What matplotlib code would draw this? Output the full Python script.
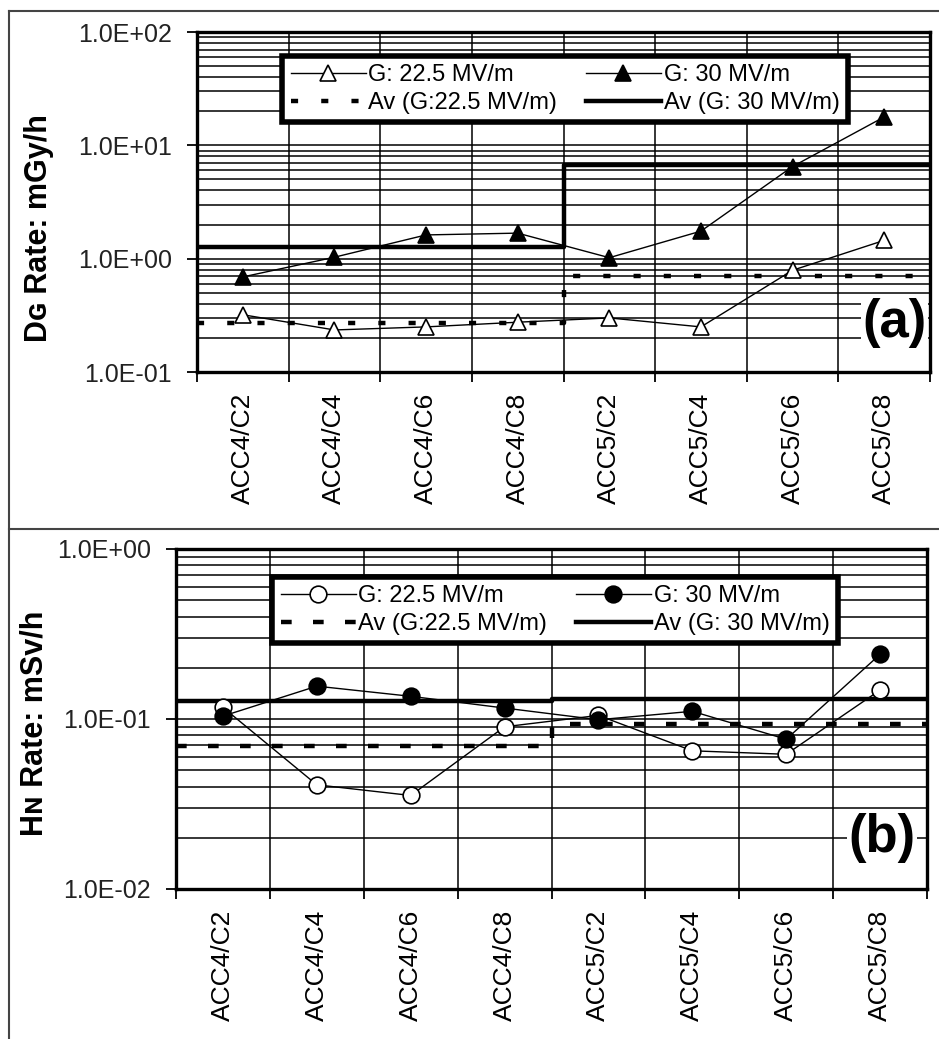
import numpy as np
import matplotlib
matplotlib.use("Agg")
import matplotlib.pyplot as plt
from matplotlib.lines import Line2D
from matplotlib.ticker import FixedLocator, FuncFormatter, LogLocator, NullFormatter

plt.rcParams['font.family'] = ['Liberation Sans', 'DejaVu Sans']

categories = ["ACC4/C2", "ACC4/C4", "ACC4/C6", "ACC4/C8",
              "ACC5/C2", "ACC5/C4", "ACC5/C6", "ACC5/C8"]

# (a) gamma dose rate, mGy/h
dg_225 = [0.32, 0.235, 0.25, 0.275, 0.30, 0.25, 0.79, 1.45]
dg_30 = [0.69, 1.03, 1.62, 1.68, 1.02, 1.75, 6.5, 17.8]
dg_av_225 = [0.27, 0.70]   # ACC4, ACC5
dg_av_30 = [1.27, 6.7]

# (b) neutron dose equivalent rate, mSv/h
hn_225 = [0.117, 0.041, 0.0355, 0.090, 0.105, 0.065, 0.062, 0.148]
hn_30 = [0.104, 0.156, 0.136, 0.116, 0.099, 0.111, 0.076, 0.24]
hn_av_225 = [0.0690, 0.093]
hn_av_30 = [0.128, 0.131]

x = np.arange(len(categories))
step_x = [-0.5, 3.5, 3.5, 7.5]


def sci(v, pos):
    return f"{v:.1E}"


def draw_panel(ax, y225, y30, av225, av30, marker, ylim, ylabel, tag, tag_xy,
               dots, leg_center, fig):
    ax.set_yscale('log')
    ax.set_ylim(*ylim)
    ax.set_xlim(-0.5, 7.5)

    # grid
    ax.yaxis.set_major_locator(LogLocator(base=10))
    ax.yaxis.set_minor_locator(LogLocator(base=10, subs=np.arange(2, 10)))
    ax.yaxis.set_minor_formatter(NullFormatter())
    ax.yaxis.set_major_formatter(FuncFormatter(sci))
    ax.grid(True, which='both', axis='y', color='black', lw=1.1, zorder=0)
    ax.xaxis.set_major_locator(FixedLocator(np.arange(-0.5, 8, 1)))
    ax.xaxis.set_minor_locator(FixedLocator(x))
    ax.xaxis.set_major_formatter(NullFormatter())
    ax.set_xticks(x, categories, minor=True, rotation=90)
    ax.grid(True, which='major', axis='x', color='black', lw=1.1, zorder=0)
    ax.set_axisbelow(True)

    ax.tick_params(axis='x', which='major', direction='out', length=7, width=1.3)
    ax.tick_params(axis='x', which='minor', length=0, pad=15, labelsize=19)
    ax.tick_params(axis='y', which='major', direction='out', length=7, width=1.3,
                   pad=11, labelsize=18, labelcolor='#222222')
    ax.tick_params(axis='y', which='minor', length=0)
    for s in ax.spines.values():
        s.set_linewidth(2.4)

    ax.plot(step_x, [av225[0], av225[0], av225[1], av225[1]], color='black',
            lw=3.2, ls=(0, dots), zorder=3, label='Av (G:22.5 MV/m)')
    ax.plot(step_x, [av30[0], av30[0], av30[1], av30[1]], color='black',
            lw=3.2, zorder=3, label='Av (G: 30 MV/m)')
    ax.plot(x, y225, color='black', lw=1.0, marker=marker, ms=12,
            mfc='white', mec='black', mew=1.2, zorder=4, label='G: 22.5 MV/m')
    ax.plot(x, y30, color='black', lw=1.0, marker=marker, ms=12,
            mfc='black', mec='black', mew=1.2, zorder=4, label='G: 30 MV/m')

    h, l = ax.get_legend_handles_labels()
    order = [2, 0, 3, 1]
    leg = ax.legend([h[i] for i in order], [l[i] for i in order], ncol=2,
                    loc='center', bbox_to_anchor=leg_center,
                    bbox_transform=fig.transFigure, fontsize=17,
                    handlelength=3.2, handletextpad=0.1, columnspacing=1.2,
                    labelspacing=0.25, borderpad=0.35, fancybox=False,
                    framealpha=1, edgecolor='black')
    leg.get_frame().set_linewidth(4)
    leg.set_zorder(6)

    ax.set_ylabel(ylabel, fontsize=22, fontweight='bold')
    ax.text(tag_xy[0], tag_xy[1], tag, transform=ax.transAxes, ha='right',
            va='center', fontsize=38, fontweight='bold', zorder=7,
            bbox=dict(facecolor='white', edgecolor='none', pad=1))


fig = plt.figure(figsize=(9.39, 10.39), dpi=100)
W, H = 939, 1039
ax1 = fig.add_axes([197 / W, 1 - 372 / H, 733 / W, 340 / H])
ax2 = fig.add_axes([176 / W, 1 - 889 / H, 751 / W, 340 / H])

draw_panel(ax1, dg_225, dg_30, dg_av_225, dg_av_30, '^', (0.1, 100),
           'D\u0262 Rate: mGy/h', '(a)', (0.995, 0.145), (1.6, 5.2),
           (565 / W, 1 - 89 / H), fig)
draw_panel(ax2, hn_225, hn_30, hn_av_225, hn_av_30, 'o', (0.01, 1),
           'H\u0274 Rate: mSv/h', '(b)', (0.985, 0.15), (2.4, 4.8),
           (555 / W, 1 - 610 / H), fig)
ax1.yaxis.set_label_coords(54 / W, 1 - 228 / H, transform=fig.transFigure)
ax2.yaxis.set_label_coords(50 / W, 1 - 723 / H, transform=fig.transFigure)

# panel frame lines
for coords in ([[9, 9], [0, H - 11]], [[9, W], [H - 11, H - 11]],
               [[9, W], [H - 529, H - 529]]):
    fig.add_artist(Line2D(np.array(coords[0]) / W, np.array(coords[1]) / H,
                          color='#444444', lw=1.5))

fig.savefig('out.png', dpi=100, facecolor='white')
